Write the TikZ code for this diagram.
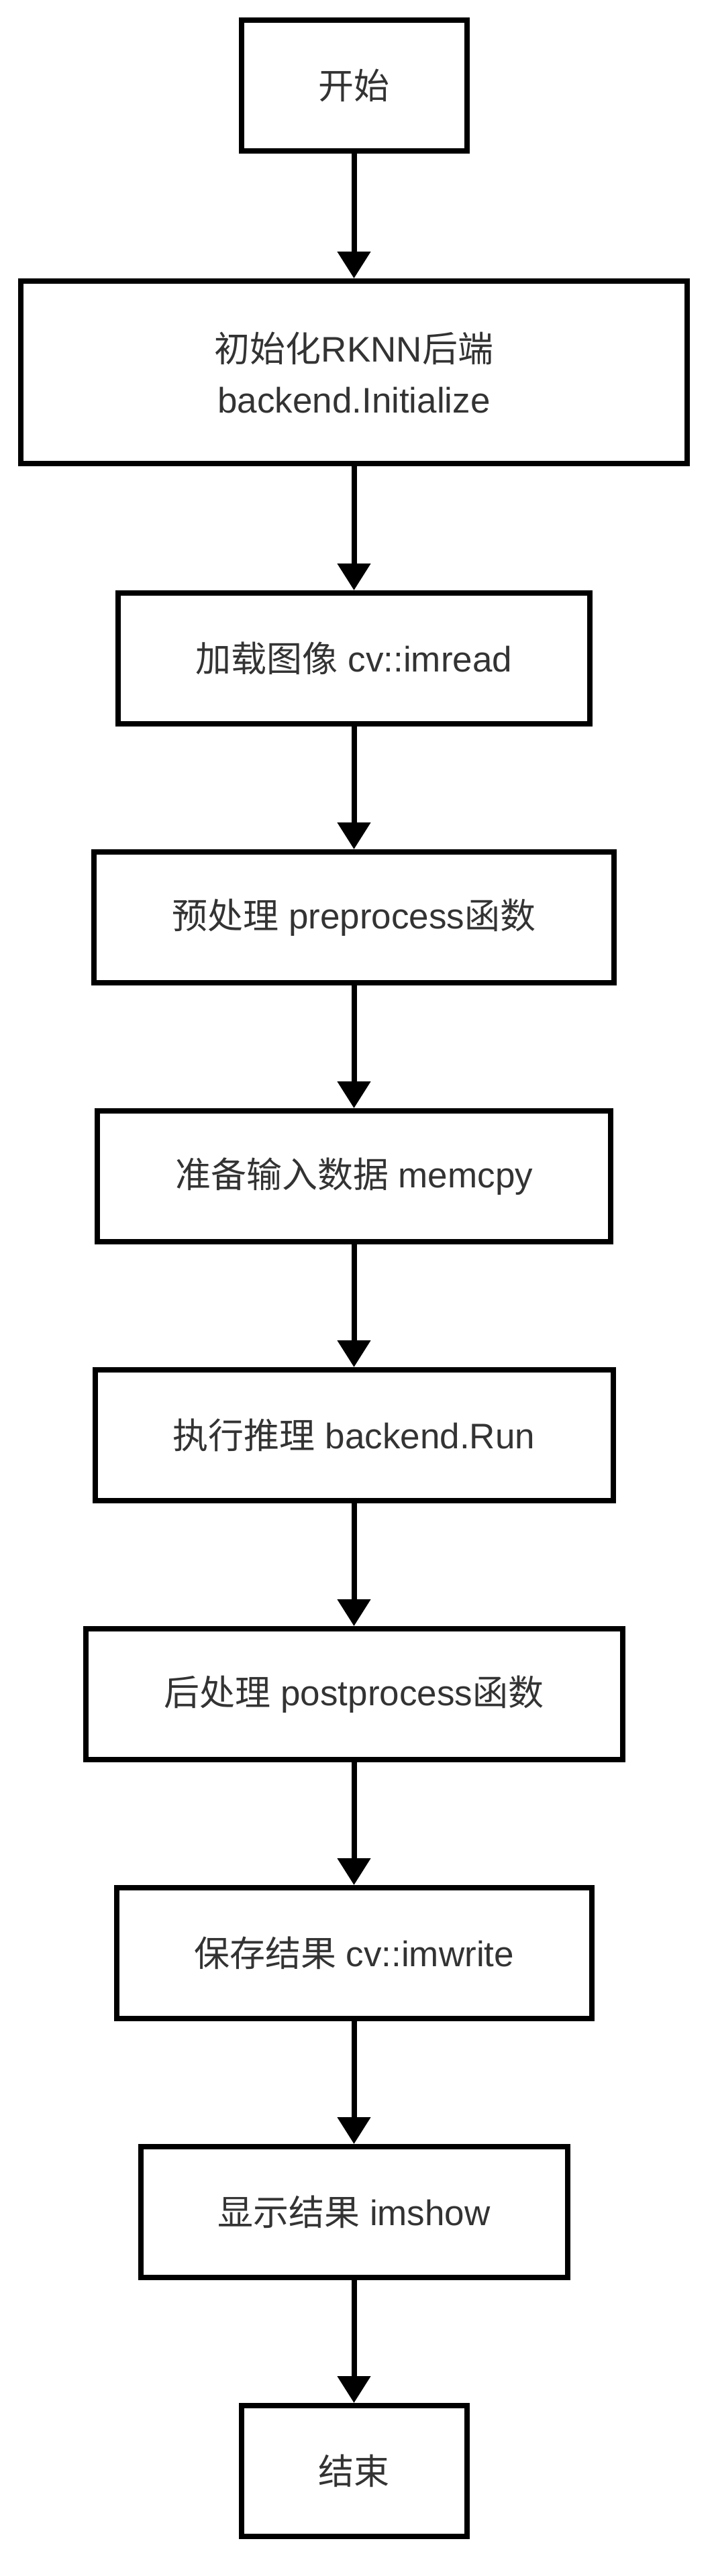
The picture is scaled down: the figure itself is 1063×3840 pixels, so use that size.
\documentclass[tikz,border=0pt]{standalone}
\usepackage{fontspec}
\setmainfont{Liberation Sans}
\newfontfamily\cjk{Noto Sans CJK SC}
\usetikzlibrary{arrows.meta}
\definecolor{txt}{HTML}{333333}
\begin{document}
\begin{tikzpicture}[x=1pt,y=-1pt,
  box/.style={draw=black, line width=8pt, rectangle, inner sep=0pt,
    minimum height=195pt, text=txt, align=center,
    font=\fontsize{53}{76}\selectfont},
  flow/.style={draw=black, line width=8pt,
    -{Triangle[length=40pt,width=48pt]}}]
\useasboundingbox (0,0) rectangle (1063,3840);
\node[box, minimum width=336pt] (n1) at (527.5,127.5) {{\cjk 开始}};
\node[box, minimum width=993pt, minimum height=272pt] (n2) at (527.5,555)
  {{\cjk 初始化}RKNN{\cjk 后端}\\backend.Initialize};
\node[box, minimum width=703pt] (n3) at (527.5,981.5) {{\cjk 加载图像} cv::imread};
\node[box, minimum width=775pt] (n4) at (527.5,1367.5) {{\cjk 预处理} preprocess{\cjk 函数}};
\node[box, minimum width=765pt] (n5) at (527.5,1753.5) {{\cjk 准备输入数据} memcpy};
\node[box, minimum width=772pt] (n6) at (527.5,2139.5) {{\cjk 执行推理} backend.Run};
\node[box, minimum width=800pt] (n7) at (527.5,2525.5) {{\cjk 后处理} postprocess{\cjk 函数}};
\node[box, minimum width=708pt] (n8) at (527.5,2911.5) {{\cjk 保存结果} cv::imwrite};
\node[box, minimum width=636pt] (n9) at (527.5,3297.5) {{\cjk 显示结果} imshow};
\node[box, minimum width=336pt] (n10) at (527.5,3683.5) {{\cjk 结束}};
\draw[flow] (n1) -- (n2);
\draw[flow] (n2) -- (n3);
\draw[flow] (n3) -- (n4);
\draw[flow] (n4) -- (n5);
\draw[flow] (n5) -- (n6);
\draw[flow] (n6) -- (n7);
\draw[flow] (n7) -- (n8);
\draw[flow] (n8) -- (n9);
\draw[flow] (n9) -- (n10);
\end{tikzpicture}
\end{document}
